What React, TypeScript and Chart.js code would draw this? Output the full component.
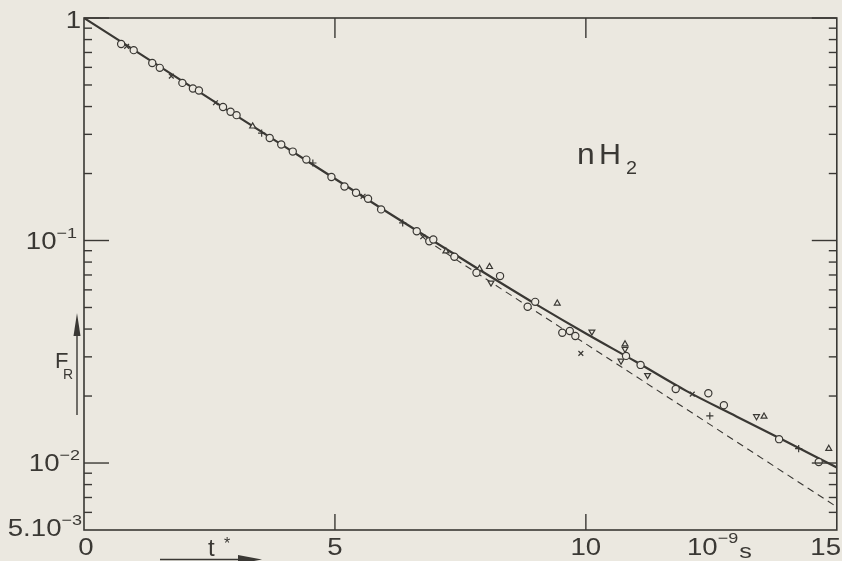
import React, { useEffect, useRef } from "react";
import { Chart, registerables } from "chart.js";

Chart.register(...registerables);

// ---- axis ranges and ticks ----
const X_MIN = 0;
const X_MAX = 15;
const Y_MIN = 0.005;
const Y_MAX = 1;
const X_TICK_VALUES = [0, 5, 10, 15];
const X_TICK_LABELS = ["0", "5", "10", "15"];
const X_INNER_TICKS = [5, 10];
const Y_MAJOR_TICKS = [1, 0.1, 0.01];
const Y_MINOR_TICKS = [
  0.006, 0.007, 0.008, 0.009,
  0.02, 0.03, 0.04, 0.05, 0.06, 0.07, 0.08, 0.09,
  0.2, 0.3, 0.4, 0.5, 0.6, 0.7, 0.8, 0.9,
];

// ---- solid curve (fit through data) ----
const SOLID_X = [0, 2, 4, 6, 7, 8, 9, 10, 11, 12, 13, 14, 15];
const SOLID_Y = [1, 0.514, 0.264, 0.136, 0.0982, 0.0711, 0.0518, 0.0382, 0.0285, 0.0211, 0.0162, 0.01245, 0.00955];

// ---- dashed straight (exponential) line ----
const DASH_X = [6.8, 15];
const DASH_Y = [0.101, 0.00635];

// ---- measured points ----
const CIRCLE_X = [0.74, 0.99, 1.36, 1.51, 1.96, 2.17, 2.29, 2.77, 2.92, 3.04, 3.7, 3.93, 4.16, 4.43, 4.93, 5.19, 5.42, 5.66, 5.92, 6.63, 6.88, 6.96, 7.38, 7.82, 8.29, 8.84, 8.99, 9.53, 9.68, 9.79, 10.8, 11.09, 11.79, 12.44, 12.75, 13.85, 14.64];
const CIRCLE_Y = [0.764, 0.717, 0.628, 0.597, 0.511, 0.482, 0.472, 0.398, 0.379, 0.366, 0.289, 0.27, 0.251, 0.231, 0.193, 0.175, 0.164, 0.154, 0.138, 0.11, 0.0993, 0.101, 0.0845, 0.0716, 0.0692, 0.0504, 0.053, 0.0385, 0.0392, 0.0372, 0.0303, 0.0276, 0.0215, 0.0206, 0.0182, 0.0128, 0.0101];

const XCROSS_X = [0.85, 1.74, 2.62, 5.56, 6.75, 9.9, 12.12];
const XCROSS_Y = [0.746, 0.548, 0.416, 0.158, 0.104, 0.0311, 0.0204];

const PLUS_X = [3.54, 4.56, 6.35, 12.47, 14.24];
const PLUS_Y = [0.304, 0.223, 0.12, 0.0163, 0.0116];

const TRI_UP_X = [3.36, 7.21, 7.88, 8.08, 9.43, 10.78, 13.55, 14.84];
const TRI_UP_Y = [0.326, 0.0895, 0.0747, 0.0762, 0.0522, 0.0342, 0.0162, 0.0116];

const TRI_DOWN_X = [8.11, 10.12, 10.7, 10.78, 11.23, 13.4];
const TRI_DOWN_Y = [0.0646, 0.0389, 0.0288, 0.0325, 0.0248, 0.0162];

const INK = "#3a3834";
const PAPER = "#ebe8e0";
const FONT = '"Liberation Sans", "DejaVu Sans", sans-serif';
const STRETCH = 1.2;

const pts = (xs: number[], ys: number[]) => xs.map((x, i) => ({ x, y: ys[i] }));

function textW(ctx: CanvasRenderingContext2D, s: string, size: number, sx = STRETCH) {
  ctx.font = `${size}px ${FONT}`;
  return ctx.measureText(s).width * sx;
}

function put(ctx: CanvasRenderingContext2D, s: string, x: number, y: number, size: number, align: "left" | "right" | "center" = "left", sx = STRETCH) {
  ctx.font = `${size}px ${FONT}`;
  const w = ctx.measureText(s).width * sx;
  let x0 = x;
  if (align === "right") x0 = x - w;
  else if (align === "center") x0 = x - w / 2;
  ctx.save();
  ctx.translate(x0, y);
  ctx.scale(sx, 1);
  ctx.textAlign = "left";
  ctx.textBaseline = "alphabetic";
  ctx.fillText(s, 0, 0);
  ctx.restore();
}

// power label right-aligned at `right`, digits vertically centred at cy
function powLabel(ctx: CanvasRenderingContext2D, base: string, sup: string, right: number, cy: number) {
  const bs = 23;
  const ss = 15;
  const wb = textW(ctx, base, bs);
  const ws = textW(ctx, sup, ss);
  const x0 = right - wb - ws;
  put(ctx, base, x0, cy + 8, bs);
  put(ctx, sup, x0 + wb, cy - 3, ss);
}

const framePlugin = {
  id: "framePlugin",
  afterDatasetsDraw(chart: any) {
    const { ctx, chartArea: a, scales } = chart;
    const xs = scales.x;
    const ys = scales.y;
    ctx.save();
    ctx.strokeStyle = INK;
    ctx.fillStyle = INK;
    ctx.lineWidth = 1.6;
    ctx.lineCap = "butt";
    ctx.strokeRect(a.left, a.top, a.right - a.left, a.bottom - a.top);

    const seg = (x1: number, y1: number, x2: number, y2: number) => {
      ctx.beginPath();
      ctx.moveTo(x1, y1);
      ctx.lineTo(x2, y2);
      ctx.stroke();
    };

    ctx.lineWidth = 1.4;
    for (const v of Y_MAJOR_TICKS) {
      const py = ys.getPixelForValue(v);
      seg(a.left, py, a.left + 25, py);
      seg(a.right, py, a.right - 25, py);
    }
    for (const v of Y_MINOR_TICKS) {
      const py = ys.getPixelForValue(v);
      seg(a.left, py, a.left + 8, py);
      seg(a.right, py, a.right - 8, py);
    }
    for (const v of X_INNER_TICKS) {
      const px = xs.getPixelForValue(v);
      seg(px, a.bottom, px, a.bottom - 16);
      seg(px, a.top, px, a.top + 20);
    }

    // x tick labels
    ctx.fillStyle = INK;
    X_TICK_VALUES.forEach((v, i) => {
      const px = xs.getPixelForValue(v);
      if (v === X_MAX) put(ctx, X_TICK_LABELS[i], 841, 555, 23, "right");
      else put(ctx, X_TICK_LABELS[i], px + (v === 0 ? 2 : 0), 555, 23, "center");
    });

    // unit label 10^-9 s
    {
      const x0 = 687;
      const wb = textW(ctx, "10", 23);
      put(ctx, "10", x0, 555, 23);
      const ws = textW(ctx, "−9", 15);
      put(ctx, "−9", x0 + wb, 543, 15);
      put(ctx, "s", x0 + wb + ws + 1, 558, 21);
    }

    // y tick labels
    put(ctx, "1", 81, 28, 23, "right");
    powLabel(ctx, "10", "−1", 77, ys.getPixelForValue(0.1));
    powLabel(ctx, "10", "−2", 80, ys.getPixelForValue(0.01));
    powLabel(ctx, "5.10", "−3", 82, ys.getPixelForValue(0.005) - 2);

    // t* with arrow
    put(ctx, "t", 208, 556, 24, "left", 1);
    put(ctx, "*", 224, 549, 16, "left", 1);
    ctx.lineWidth = 1.4;
    seg(160, 559.5, 250, 559.5);
    ctx.beginPath();
    ctx.moveTo(262, 559.5);
    ctx.lineTo(238, 555);
    ctx.lineTo(238, 564);
    ctx.closePath();
    ctx.fill();

    // F_R with arrow
    put(ctx, "F", 55, 368, 22, "left", 1);
    put(ctx, "R", 63, 379, 14, "left", 1);
    seg(77, 415, 77, 330);
    ctx.beginPath();
    ctx.moveTo(77, 313);
    ctx.lineTo(73.5, 336);
    ctx.lineTo(80.5, 336);
    ctx.closePath();
    ctx.fill();

    // nH2 annotation
    put(ctx, "n", 577, 164, 29, "left", 1.1);
    put(ctx, "H", 599, 164, 29, "left", 1.05);
    put(ctx, "2", 626, 174, 18, "left", 1.1);

    ctx.restore();
  },
};

export default function App() {
  const ref = useRef<HTMLCanvasElement | null>(null);

  useEffect(() => {
    if (!ref.current) return;
    const markerBase = {
      type: "scatter" as const,
      showLine: false,
      borderColor: INK,
      backgroundColor: PAPER,
      borderWidth: 1.2,
      order: 0,
    };
    const chart = new Chart(ref.current, {
      type: "scatter",
      data: {
        datasets: [
          {
            type: "line",
            label: "fit",
            data: pts(SOLID_X, SOLID_Y),
            borderColor: INK,
            borderWidth: 2.2,
            pointRadius: 0,
            cubicInterpolationMode: "monotone",
            fill: false,
            order: 10,
          } as any,
          {
            type: "line",
            label: "exponential",
            data: pts(DASH_X, DASH_Y),
            borderColor: INK,
            borderWidth: 1.1,
            borderDash: [7, 5],
            pointRadius: 0,
            fill: false,
            order: 11,
          } as any,
          { ...markerBase, label: "o", data: pts(CIRCLE_X, CIRCLE_Y), pointStyle: "circle", pointRadius: 3.6 },
          { ...markerBase, label: "x", data: pts(XCROSS_X, XCROSS_Y), pointStyle: "crossRot", pointRadius: 3.4 },
          { ...markerBase, label: "+", data: pts(PLUS_X, PLUS_Y), pointStyle: "cross", pointRadius: 3.6 },
          { ...markerBase, label: "tri-up", data: pts(TRI_UP_X, TRI_UP_Y), pointStyle: "triangle", pointRadius: 3.4 },
          { ...markerBase, label: "tri-down", data: pts(TRI_DOWN_X, TRI_DOWN_Y), pointStyle: "triangle", pointRotation: 180, pointRadius: 3.4 },
        ],
      },
      options: {
        responsive: false,
        animation: false,
        events: [],
        layout: { padding: { left: 84, right: 5, top: 18, bottom: 31 } },
        plugins: { legend: { display: false }, tooltip: { enabled: false } },
        scales: {
          x: { type: "linear", min: X_MIN, max: X_MAX, display: false },
          y: { type: "logarithmic", min: Y_MIN, max: Y_MAX, display: false },
        },
      },
      plugins: [framePlugin],
    });
    return () => chart.destroy();
  }, []);

  return (
    <div style={{ position: "fixed", left: 0, top: 0, width: 842, height: 561, background: PAPER, overflow: "hidden" }}>
      <canvas ref={ref} width={842} height={561} style={{ display: "block", width: 842, height: 561 }} />
    </div>
  );
}
